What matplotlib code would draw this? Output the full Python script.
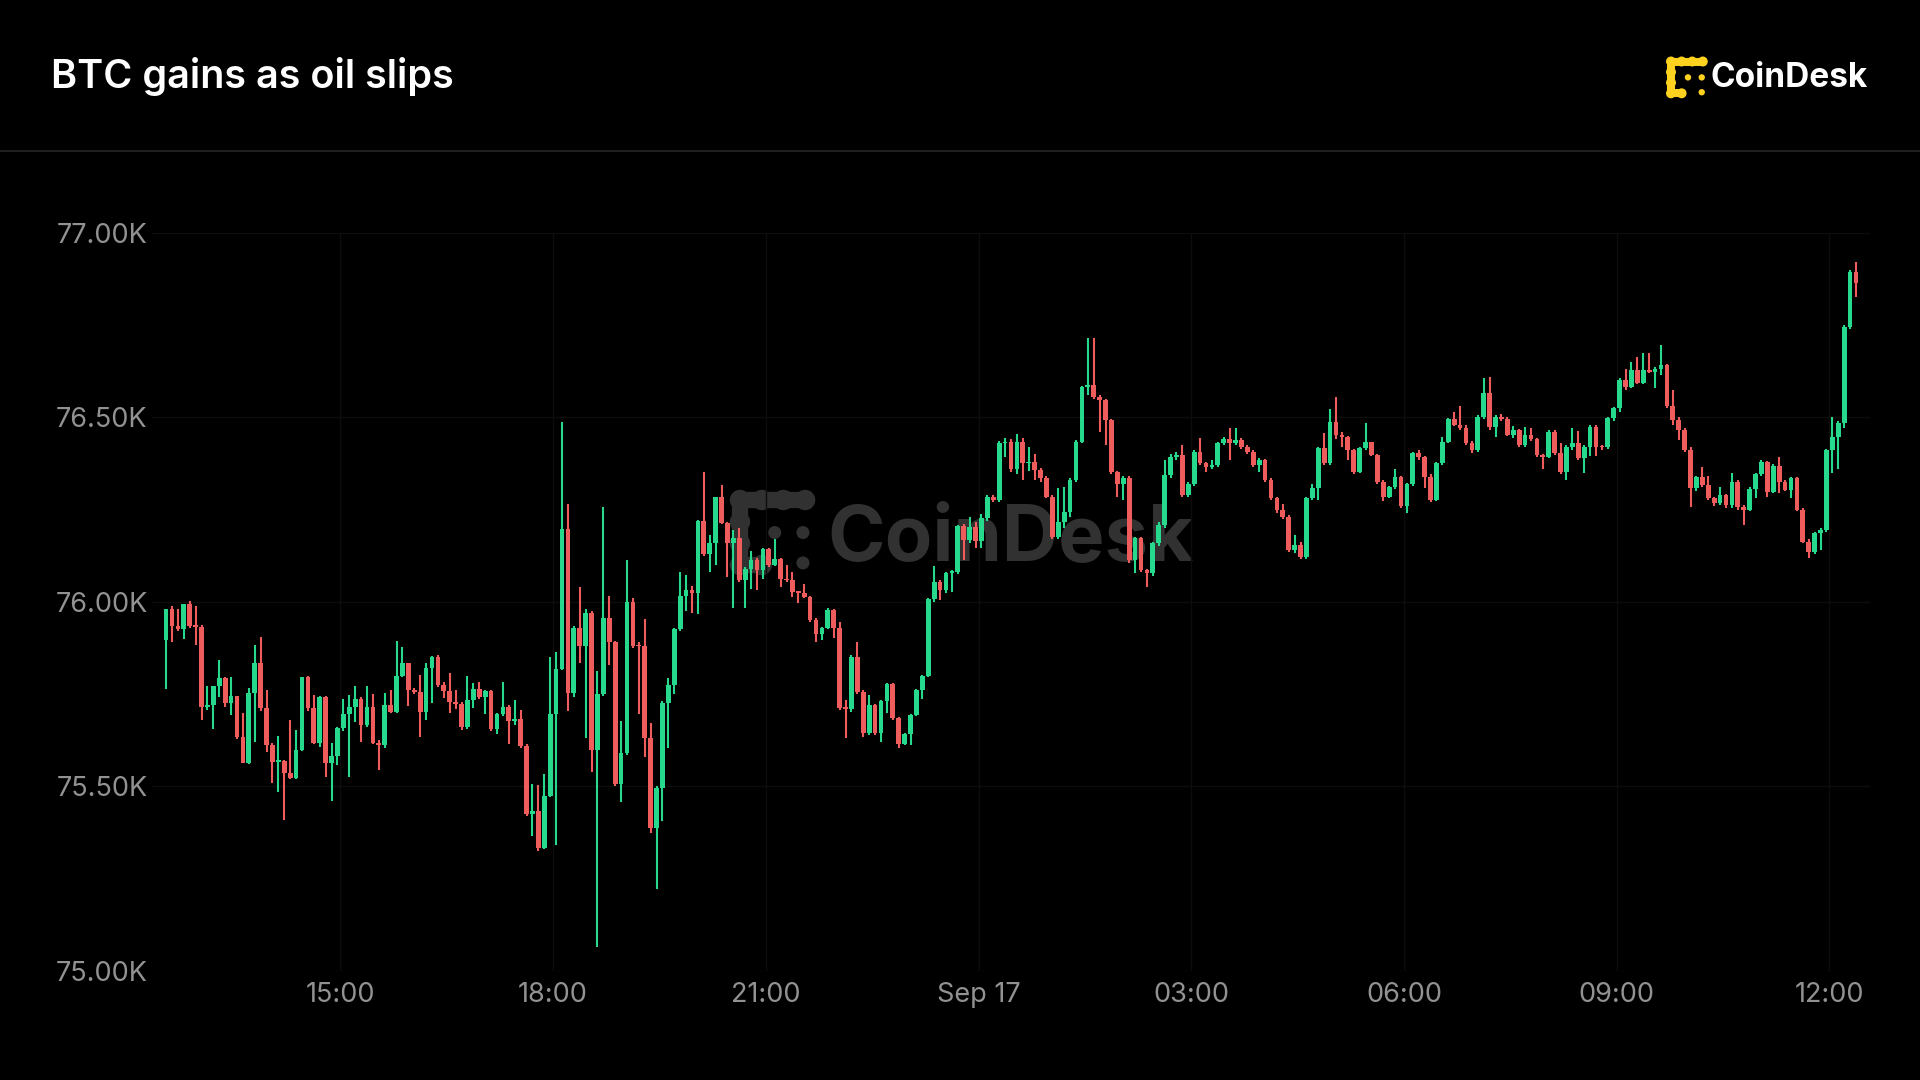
import numpy as np
import pandas as pd
import matplotlib
matplotlib.use("Agg")
import matplotlib.pyplot as plt
import matplotlib.dates as mdates
from matplotlib.patches import Circle

plt.rcParams['font.family'] = ['Inter', 'DejaVu Sans']

# BTC 5-minute candles, Sep 16 12:30 -> Sep 17 12:20
first_open = 75896
closes = [
    75980, 75934, 75925, 75993, 75934, 75932, 75716, 75720, 75772, 75793, 75725, 75745,
    75635, 75564, 75752, 75835, 75711, 75612, 75567, 75570, 75535, 75524, 75598, 75795,
    75711, 75617, 75743, 75564, 75583, 75657, 75696, 75716, 75738, 75666, 75714, 75618,
    75612, 75720, 75702, 75799, 75833, 75761, 75756, 75702, 75822, 75850, 75775, 75758,
    75729, 75724, 75661, 75734, 75763, 75743, 75758, 75656, 75695, 75716, 75676, 75683,
    75610, 75424, 75434, 75332, 75473, 75697, 75819, 76196, 75753, 75929, 75879, 75971,
    75598, 75751, 75956, 75891, 75506, 75591, 76000, 75881, 75880, 75632, 75386, 75497,
    75726, 75774, 75927, 76016, 76032, 76024, 76218, 76129, 76160, 76283, 76213, 76160,
    76172, 76059, 76090, 76113, 76086, 76142, 76100, 76115, 76063, 76059, 76027, 76025,
    76014, 75951, 75914, 75928, 75978, 75928, 75711, 75710, 75851, 75756, 75644, 75720,
    75645, 75732, 75777, 75684, 75616, 75642, 75693, 75761, 75799, 76007, 76054, 76032,
    76079, 76081, 76205, 76167, 76203, 76165, 76226, 76285, 76276,
    76429, 76434, 76360, 76432, 76375, 76380, 76357, 76334, 76285, 76176, 76217, 76244,
    76330, 76433, 76582, 76587, 76555, 76546, 76492, 76352, 76320, 76334, 76113, 76172,
    76086, 76077, 76158, 76208, 76343, 76393, 76397, 76289, 76320, 76406, 76375, 76366,
    76370, 76429, 76442, 76429, 76438, 76420, 76406, 76370, 76384, 76330, 76280, 76248,
    76230, 76140,
    76154, 76122, 76280, 76307, 76416, 76375, 76488, 76452, 76447, 76411, 76352, 76416,
    76434, 76398, 76325, 76285, 76312, 76339, 76260, 76319, 76402, 76391, 76339, 76276,
    76377, 76434, 76494, 76479, 76470, 76429, 76411, 76501, 76565, 76474, 76501, 76495,
    76452, 76465, 76425, 76452, 76440, 76398, 76393, 76461, 76402, 76352, 76420,
    76429, 76389, 76420, 76474, 76420, 76418, 76497, 76524, 76601, 76583, 76628, 76592,
    76628, 76623, 76630, 76641, 76529, 76492, 76465, 76411, 76307, 76339, 76316, 76280,
    76267, 76289, 76262, 76325, 76257, 76249, 76305, 76346, 76379, 76298, 76368, 76325,
    76303, 76334, 76249, 76163, 76136, 76185, 76195, 76411, 76447, 76483, 76745, 76894,
    76863,
]
highs = [
    75980, 75989, 75980, 75995, 76002, 75988, 75937, 75772, 75772, 75842, 75795, 75795,
    75745, 75698, 75767, 75883, 75905, 75761, 75618, 75636, 75572, 75680, 75654, 75795,
    75798, 75747, 75745, 75745, 75618, 75660, 75736, 75747, 75772, 75741, 75772, 75749,
    75627, 75754, 75761, 75894, 75878, 75835, 75766, 75802, 75833, 75852, 75855, 75784,
    75806, 75761, 75729, 75800, 75780, 75782, 75760, 75761, 75700, 75784, 75720, 75734,
    75707, 75615, 75506, 75504, 75533, 75850, 75864, 76487, 76266, 75935, 76041, 75980,
    75976, 75813, 76258, 76016, 75895, 75676, 76114, 76010, 75890, 75954, 75671, 75500,
    75730, 75794, 75930, 76080, 76072, 76043, 76222, 76351, 76181, 76285, 76316, 76215,
    76194, 76199, 76095, 76138, 76118, 76145, 76145, 76169, 76118, 76100, 76081, 76030,
    76048, 76016, 75955, 75932, 75982, 75980, 75946, 75734, 75855, 75892, 75760, 75747,
    75722, 75735, 75780, 75780, 75689, 75645, 75697, 75765, 75803, 76010, 76097, 76058,
    76082, 76085, 76208, 76210, 76230, 76217, 76238, 76290, 76290,
    76435, 76445, 76440, 76455, 76445, 76420, 76400, 76362, 76340, 76290, 76307, 76310,
    76335, 76438, 76585, 76714, 76714, 76560, 76550, 76495, 76355, 76340, 76340, 76175,
    76175, 76090, 76162, 76215, 76384, 76400, 76405, 76425, 76325, 76410, 76443, 76380,
    76385, 76432, 76447, 76470, 76470, 76445, 76425, 76410, 76390, 76386, 76335, 76285,
    76265, 76235,
    76181, 76163, 76285, 76319, 76420, 76456, 76521, 76556, 76460, 76450, 76415, 76420,
    76483, 76434, 76400, 76330, 76315, 76359, 76340, 76322, 76405, 76411, 76395, 76345,
    76380, 76447, 76497, 76515, 76530, 76480, 76435, 76505, 76605, 76610, 76505, 76510,
    76500, 76475, 76468, 76474, 76470, 76445, 76400, 76465, 76465, 76430, 76425,
    76470, 76463, 76425, 76478, 76478, 76425, 76500, 76528, 76605, 76630, 76650, 76664,
    76673, 76673, 76635, 76695, 76645, 76574, 76500, 76470, 76420, 76342, 76366, 76340,
    76285, 76312, 76292, 76348, 76330, 76262, 76310, 76350, 76385, 76382, 76372, 76391,
    76330, 76338, 76338, 76255, 76170, 76190, 76200, 76415, 76500, 76490, 76750, 76900,
    76921,
]
lows = [
    75765, 75892, 75920, 75900, 75930, 75883, 75680, 75707, 75655, 75743, 75716, 75693,
    75628, 75564, 75560, 75621, 75705, 75594, 75508, 75486, 75409, 75520, 75520, 75595,
    75705, 75615, 75608, 75526, 75461, 75558, 75650, 75526, 75675, 75621, 75660, 75615,
    75544, 75605, 75700, 75700, 75795, 75718, 75750, 75635, 75680, 75727, 75770, 75740,
    75700, 75710, 75652, 75655, 75713, 75736, 75695, 75650, 75642, 75690, 75616, 75666,
    75605, 75420, 75366, 75325, 75330, 75470, 75342, 75815, 75705, 75743, 75833, 75632,
    75540, 75066, 75745, 75829, 75500, 75458, 75585, 75875, 75695, 75579, 75374, 75221,
    75405, 75603, 75751, 75920, 75975, 75971, 75968, 76125, 76080, 76100, 76210, 76068,
    75982, 76054, 75982, 76036, 76032, 76063, 76095, 76098, 76041, 76054, 76014, 75996,
    76010, 75946, 75892, 75896, 75925, 75901, 75706, 75630, 75702, 75750, 75634, 75640,
    75640, 75621, 75698, 75680, 75603, 75612, 75612, 75690, 75738, 75795, 76000, 76005,
    76023, 76027, 76075, 76113, 76160, 76145, 76145, 76220, 76270,
    76270, 76393, 76352, 76345, 76330, 76355, 76330, 76325, 76280, 76170, 76170, 76200,
    76230, 76325, 76430, 76560, 76550, 76460, 76425, 76345, 76285, 76276, 76105, 76077,
    76080, 76041, 76070, 76150, 76200, 76335, 76385, 76285, 76285, 76315, 76370, 76352,
    76360, 76365, 76425, 76384, 76425, 76415, 76400, 76365, 76352, 76325, 76275, 76240,
    76225, 76135,
    76131, 76115, 76115, 76275, 76275, 76370, 76370, 76440, 76420, 76384, 76345, 76350,
    76410, 76395, 76320, 76274, 76280, 76305, 76255, 76241, 76315, 76385, 76307, 76270,
    76272, 76370, 76430, 76475, 76465, 76425, 76402, 76405, 76495, 76465, 76447, 76490,
    76448, 76445, 76420, 76420, 76435, 76392, 76361, 76390, 76398, 76345, 76330,
    76410, 76385, 76350, 76395, 76395, 76410, 76415, 76490, 76515, 76575, 76580, 76590,
    76590, 76620, 76578, 76615, 76525, 76480, 76438, 76405, 76257, 76300, 76310, 76275,
    76260, 76262, 76255, 76255, 76250, 76207, 76245, 76280, 76340, 76285, 76295, 76294,
    76300, 76280, 76245, 76160, 76118, 76130, 76140, 76190, 76348, 76361, 76470, 76740,
    76826,
]

y_ticks = [75000, 75500, 76000, 76500, 77000]
y_tick_labels = ["75.00K", "75.50K", "76.00K", "76.50K", "77.00K"]
x_ticks = pd.date_range("2025-09-16 15:00", "2025-09-17 12:00", freq="3h")
x_tick_labels = ["15:00", "18:00", "21:00", "Sep 17", "03:00", "06:00", "09:00", "12:00"]

title = "BTC gains as oil slips"
brand = "CoinDesk"

GREEN = "#27d98c"
RED = "#ee5c5c"
BG = "#000000"

opens = np.array([first_open] + closes[:-1], dtype=float)
c = np.array(closes, dtype=float)
# bars drawn at the middle of their 5-minute slot
times = pd.date_range("2025-09-16 12:32:30", periods=len(closes), freq="5min")
t = mdates.date2num(times)
hi = np.maximum(np.array(highs, dtype=float), np.maximum(opens, c))
lo = np.minimum(np.array(lows, dtype=float), np.minimum(opens, c))
cols = np.where(c >= opens, GREEN, RED)

fig = plt.figure(figsize=(19.2, 10.8), dpi=100, facecolor=BG)

# background layer in pixel coordinates (title, rule, logos, watermark)
bg = fig.add_axes([0, 0, 1, 1], zorder=0)
bg.set_xlim(0, 1920)
bg.set_ylim(1080, 0)
bg.axis("off")
bg.set_facecolor(BG)


def draw_logo(axl, x0, y0, s, color):
    r = 0.47 * s
    lw = 2 * r * 0.72
    for xs, ys in [([0, 3], [0, 0]), ([0, 0], [0, 3]), ([0, 1], [3, 3])]:
        axl.plot([x0 + v * s for v in xs], [y0 + v * s for v in ys], color=color,
                 lw=lw * 0.8, solid_capstyle="round")
    for px, py in [(0, 0), (1, 0), (2, 0), (3, 0), (0, 1), (0, 2), (0, 3), (1, 3)]:
        axl.add_patch(Circle((x0 + px * s, y0 + py * s), r, color=color, lw=0))
    for px, py in [(1.6, 1.5), (2.9, 1.5), (2.9, 2.9)]:
        axl.add_patch(Circle((x0 + px * s, y0 + py * s), 0.3 * s, color=color, lw=0))


bg.text(51, 77, title, color="white", fontsize=28.5, fontweight=600, va="center", ha="left")
bg.plot([0, 1920], [151, 151], color="#262626", lw=1.2)
draw_logo(bg, 1671, 61.5, 10.6, "#ffd21f")
bg.text(1711, 78, brand, color="white", fontsize=24, fontweight="bold", va="center", ha="left")

# watermark
draw_logo(bg, 740, 500, 21.7, "#313131")
bg.text(827, 540, brand, color="#313131", fontsize=56, fontweight="bold", va="center", ha="left")

# price axes
ax = fig.add_axes([152 / 1920, (1080 - 971) / 1080, (1870 - 152) / 1920, (971 - 232.6) / 1080],
                  zorder=1)
ax.set_facecolor("none")
w = 5 / 1440 * 0.8
ax.vlines(t, lo, hi, colors=cols, lw=1.5, zorder=2)
ax.bar(t, np.maximum(np.abs(c - opens), 4), bottom=np.minimum(opens, c), width=w,
       color=cols, lw=0, zorder=3)

ax.set_ylim(75000, 77000)
ax.set_xlim(mdates.date2num(pd.Timestamp("2025-09-16 12:20:36")),
            mdates.date2num(pd.Timestamp("2025-09-17 12:34:20")))
ax.set_yticks(y_ticks)
ax.set_yticklabels(y_tick_labels)
ax.set_xticks(mdates.date2num(x_ticks))
ax.set_xticklabels(x_tick_labels)
ax.tick_params(axis="both", length=0, labelsize=19.5, colors="#929292")
ax.tick_params(axis="y", pad=3)
ax.tick_params(axis="x", pad=8)
ax.grid(True, color="#0d0d0d", lw=1)
ax.set_axisbelow(True)
for sp in ax.spines.values():
    sp.set_visible(False)

fig.savefig("out.png", dpi=100, facecolor=BG)
